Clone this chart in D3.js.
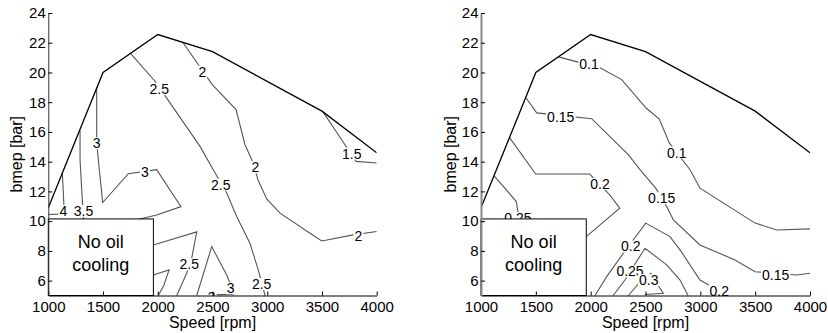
<!DOCTYPE html>
<html>
<head>
<meta charset="utf-8">
<script src="https://cdn.jsdelivr.net/npm/d3@7"></script>
<style>
  html, body { margin: 0; padding: 0; background: #fff; }
  svg { display: block; font-family: "Liberation Sans", Arial, sans-serif; }
</style>
</head>
<body>
<svg id="chart" width="828" height="333"></svg>
<script>
// ---------- data ----------
const speedTicks = [1000, 1500, 2000, 2500, 3000, 3500, 4000];
const bmepTicks = [6, 8, 10, 12, 14, 16, 18, 20, 22, 24];

// full-load envelope
const envSpeed = [1000, 1500, 2000, 2500, 3500, 4000];
const envBmep  = [10.9, 20.0, 22.55, 21.4, 17.4, 14.6];

// "No oil cooling" region
const boxSpeed = [1000, 1960];
const boxBmep  = [5, 10.15];
const boxText  = ["No oil", "cooling"];

// left panel contour lines: [speed, bmep]
const L_1p5   = [[3505,17.4],[3710,15.14],[3811,14.02],[4000,13.91]];
const L_2     = [[2228,22.03],[2498,19.18],[2715,17.5],[2797,15.14],[2873,13.9],[2915,12.78],[2995,11.5],[3117,10.54],[3391,9.19],[3498,8.67],[3786,9.08],[4000,9.3]];
const L_2p5a  = [[1753,21.27],[1975,19.41],[2066,18.44],[2386,15.03],[2507,13.46],[2630,11.89],[2721,10.31],[2842,8.52],[2918,6.72],[2980,5.0]];
const L_3a    = [[1442,19.0],[1442,15.48],[1451,14.58],[1466,13.46],[1497,11.25],[1731,13.19],[1990,13.46],[2212,10.98],[1990,10.42],[1776,10.04],[1650,9.7]];
const L_3p5   = [[1290,16.1],[1290,14.13],[1314,10.98],[1326,9.5]];
const L_4     = [[1128,13.25],[1137,12.0],[1143,10.98],[1125,10.47],[1000,10.45]];
const L_2p5b  = [[1850,8.2],[1959,8.40],[2356,9.28],[2310,7.51],[2264,6.5],[2173,5.0]];
const L_3b    = [[1850,6.2],[1959,6.38],[2103,6.72],[2057,5.71],[2005,5.0]];
const L_3c    = [[2356,5.0],[2493,8.29],[2630,6.38],[2660,5.82],[2690,5.0]];
const L_3d    = [[2495,5.06],[2678,5.07]];
const leftLines = [L_1p5, L_2, L_2p5a, L_3a, L_3p5, L_4, L_2p5b, L_3b, L_3c, L_3d];

const leftLabelText  = ["2", "2.5", "3", "1.5", "2", "3", "2.5", "4", "3.5", "2", "2.5", "2.5", "3", "3"];
const leftLabelSpeed = [2407, 2014, 1442, 3772, 2891, 1883, 2575, 1137, 1322, 3832, 2288, 2949, 2666, 2493];
const leftLabelBmep  = [20.06, 18.88, 15.24, 14.54, 13.63, 13.34, 12.45, 10.69, 10.69, 9.01, 7.1, 5.77, 5.49, 4.9];

// right panel contour lines: [speed, bmep]
const R_0p1   = [[1705,21.05],[2085,20.31],[2283,19.52],[2505,17.61],[2626,16.87],[2717,15.26],[2906,13.46],[2997,12.22],[3499,9.87],[3697,9.41],[4000,9.48]];
const R_0p15  = [[1410,18.3],[1508,17.28],[2009,16.89],[2343,14.47],[2450,13.46],[2593,12.22],[2693,10.98],[2754,10.09],[2997,8.40],[3316,7.39],[3499,6.6],[3879,6.38],[4000,6.5]];
const R_0p2a  = [[1262,15.6],[1499,13.17],[1991,13.17],[2174,11.77],[2265,10.88],[1960,8.96],[1850,8.5]];
const R_0p25a = [[1120,13.05],[1322,11.32],[1350,10.0],[1340,9.0]];
const R_0p2b  = [[2040,5.0],[2146,6.27],[2298,7.84],[2502,9.87],[2723,8.96],[2815,8.07],[2997,6.04],[3100,5.6],[3250,5.0]];
const R_0p25b = [[2205,5.0],[2313,6.04],[2495,8.18],[2693,7.06],[2815,6.04],[2888,5.0]];
const R_0p3   = [[2344,5.0],[2480,6.16],[2550,6.5],[2602,5.82],[2662,5.15],[2495,5.07]];
const rightLines = [R_0p1, R_0p15, R_0p2a, R_0p25a, R_0p2b, R_0p25b, R_0p3];

const rightLabelText  = ["0.1", "0.15", "0.1", "0.2", "0.15", "0.25", "0.2", "0.25", "0.3", "0.15", "0.2"];
const rightLabelSpeed = [1985, 1727, 2785, 2085, 2648, 1337, 2365, 2359, 2530, 3687, 3173];
const rightLabelBmep  = [20.58, 17.01, 14.62, 12.51, 11.55, 10.22, 8.30, 6.62, 6.04, 6.38, 5.32];

// ---------- drawing ----------
const svg = d3.select("#chart");
const y = d3.scaleLinear().domain([5, 24]).range([295.5, 13]);

function panel(id, xRange, lines, labText, labS, labB, axisStyle, yTitleX) {
  const x = d3.scaleLinear().domain([1000, 4000]).range(xRange);
  const g = svg.append("g");
  const clipId = "clip" + id;
  svg.append("clipPath").attr("id", clipId).append("rect")
    .attr("x", x(1000)).attr("y", y(24)).attr("width", x(4000) - x(1000)).attr("height", y(5) - y(24) + 0.5);

  const line = d3.line().x(d => x(d[0])).y(d => y(d[1]));
  const cg = g.append("g").attr("clip-path", `url(#${clipId})`);
  cg.selectAll("path.c").data(lines).join("path").attr("class", "c")
    .attr("d", line).attr("fill", "none").attr("stroke", "#555").attr("stroke-width", 1.1);

  // envelope
  const env = envSpeed.map((s, i) => [s, envBmep[i]]);
  cg.append("path").attr("d", line(env)).attr("fill", "none")
    .attr("stroke", "#000").attr("stroke-width", 1.3);

  // labels
  const lg = cg.append("g");
  labText.forEach((t, i) => {
    const tg = lg.append("g");
    const txt = tg.append("text").attr("x", x(labS[i])).attr("y", y(labB[i]))
      .attr("text-anchor", "middle").attr("dy", "0.36em")
      .attr("font-size", 14).attr("fill", "#000").text(t);
    const bb = txt.node().getBBox();
    tg.insert("rect", "text").attr("x", bb.x - 1).attr("y", bb.y + 2)
      .attr("width", bb.width + 2).attr("height", bb.height - 4).attr("fill", "#fff");
  });

  // no-oil box
  g.append("rect").attr("x", x(boxSpeed[0])).attr("y", y(boxBmep[1]))
    .attr("width", x(boxSpeed[1]) - x(boxSpeed[0])).attr("height", y(boxBmep[0]) - y(boxBmep[1]))
    .attr("fill", "#fff").attr("stroke", "#000").attr("stroke-width", 1);
  const cx = (x(boxSpeed[0]) + x(boxSpeed[1])) / 2;
  g.append("text").attr("x", cx).attr("y", 248).attr("text-anchor", "middle")
    .attr("font-size", 18).text(boxText[0]);
  g.append("text").attr("x", cx).attr("y", 271).attr("text-anchor", "middle")
    .attr("font-size", 18).text(boxText[1]);

  // axes
  const ax = g.append("g").attr("transform", `translate(0,${y(5)})`)
    .call(d3.axisBottom(x).tickValues(speedTicks).tickSizeInner(-4).tickSizeOuter(0).tickPadding(6).tickFormat(d3.format("d")));
  ax.selectAll("text").attr("font-size", 15).attr("fill", "#000");
  ax.select(".domain").attr("stroke", "#000");
  ax.selectAll(".tick line").attr("stroke", "#000");
  ax.attr("font-family", null);

  const ay = g.append("g").attr("transform", `translate(${x(1000)},0)`)
    .call(d3.axisLeft(y).tickValues(bmepTicks).tickSizeInner(-4).tickSizeOuter(0).tickPadding(2.5));
  ay.selectAll("text").attr("font-size", 15).attr("fill", "#000");
  ay.select(".domain").attr("stroke", axisStyle.color).attr("stroke-width", axisStyle.width);
  ay.selectAll(".tick line").attr("stroke", "#000");
  ay.attr("font-family", null);

  // titles
  g.append("text").attr("x", (x(1000) + x(4000)) / 2).attr("y", 328)
    .attr("text-anchor", "middle").attr("font-size", 16).text("Speed [rpm]");
  g.append("text").attr("transform", `translate(${yTitleX},${(y(5) + y(24)) / 2}) rotate(-90)`)
    .attr("text-anchor", "middle").attr("font-size", 16).text("bmep [bar]");
}

panel("L", [48.3, 376.7], leftLines, leftLabelText, leftLabelSpeed, leftLabelBmep, {color: "#333", width: 1}, 22);
panel("R", [481, 810], rightLines, rightLabelText, rightLabelSpeed, rightLabelBmep, {color: "#888", width: 2}, 456);
</script>
</body>
</html>
